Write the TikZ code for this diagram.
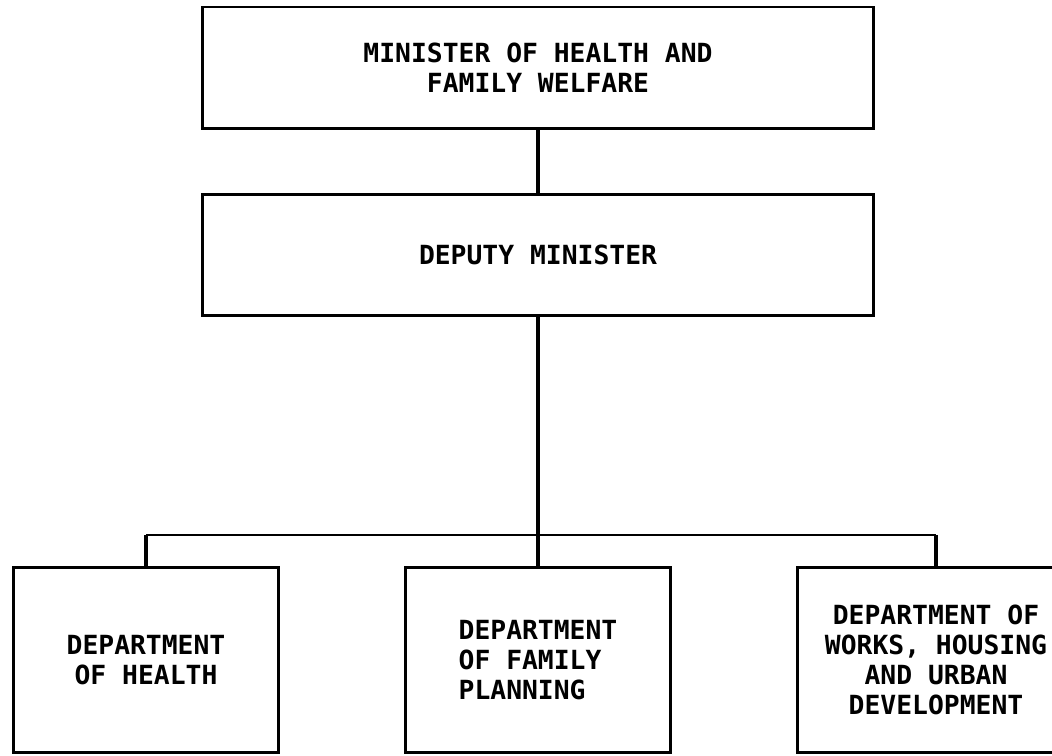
\documentclass[tikz,border=0pt]{standalone}
\usepackage{fontspec}
\setmonofont{DejaVu Sans Mono}
\usetikzlibrary{positioning}

\begin{document}
\begin{tikzpicture}[
  x=0.02cm, y=-0.02cm,
  box/.style={draw, line width=1.7pt, align=center, inner sep=0pt,
              font=\ttfamily\bfseries\fontsize{15}{17}\selectfont},
  head/.style={box, minimum width=13.44cm, minimum height=2.44cm},
  dept/.style={box, minimum width=5.32cm, minimum height=3.7cm},
  link/.style={line width=2.3pt},
  bus/.style={line width=1.2pt}
]
  \useasboundingbox (0,0) rectangle (1052,756);

  \node[head] (minister) at (538,68)  {MINISTER OF HEALTH AND\\FAMILY WELFARE};
  \node[head] (deputy)   at (538,255) {DEPUTY MINISTER};

  \node[dept]                  (health)  at (146,660) {DEPARTMENT\\OF HEALTH};
  \node[dept, align=left]      (famplan) at (538,660) {DEPARTMENT\\OF FAMILY\\PLANNING};
  \node[dept, minimum width=5.56cm] (works) at (936,660)
       {DEPARTMENT OF\\WORKS, HOUSING\\AND URBAN\\DEVELOPMENT};

  \coordinate (bus) at (538,535);

  \draw[link] (minister) -- (deputy);
  \draw[link] (deputy) -- (famplan);
  \draw[bus]  (health.north |- bus) -- (works.north |- bus);
  \draw[link] (health.north |- bus) -- (health.north);
  \draw[link] (works.north |- bus) -- (works.north);
\end{tikzpicture}
\end{document}
